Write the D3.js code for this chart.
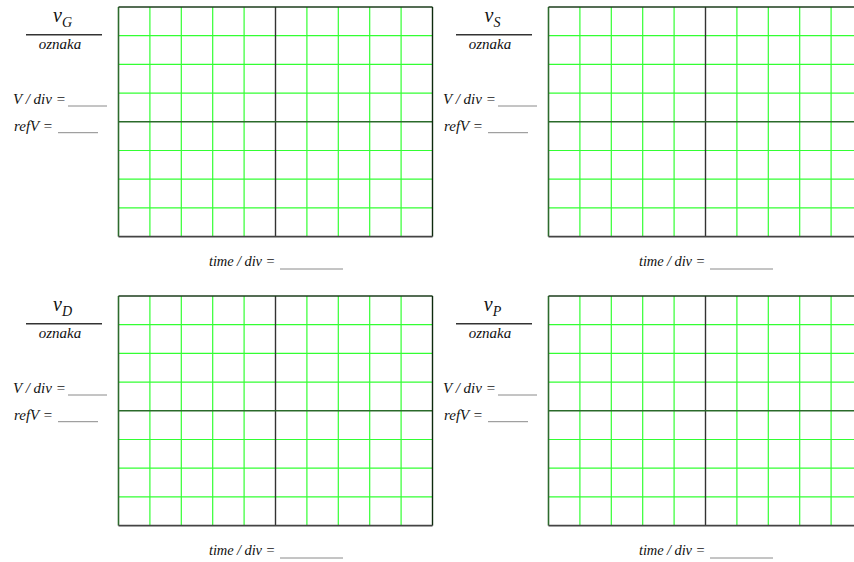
<!DOCTYPE html>
<html lang="hr">
<head>
  <meta charset="UTF-8">
  <title>Oscilloskop - predlošci</title>
  <script src="https://d3js.org/d3.v7.min.js"></script>
  <style>
    body {
      margin: 0;
      background: #ffffff;
    }
    svg {
      display: block;
    }
    .grid-line {
      stroke: #33ff33;
      stroke-width: 1.2;
    }
    .blank {
      stroke: #8a8a8a;
      stroke-width: 1;
    }
  </style>
</head>
<body>
  <svg width="854" height="562"></svg>
  <script>
    // signal names (subscripts) for the four screens, row by row
    const signals = ["G", "S", "D", "P"];
    // screen divisions
    const xDivs = d3.range(0, 11);   // 10 horizontal divisions
    const yDivs = d3.range(0, 9);    // 8 vertical divisions
    const xCenter = 5;
    const yCenter = 4;
    // text fields
    const voltLabels = ["V / div = ", "refV = "];
    const timeLabel = "time / div = ";
    const nameLabel = "oznaka";

    const FONT = "Liberation Serif";
    const svg = d3.select("svg");

    const colOffset = 430;
    const rowOffset = 289;

    const x = d3.scaleLinear().domain([0, 10]).range([118.5, 432.5]);
    const y = d3.scaleLinear().domain([0, 8]).range([7, 236.6]);

    function label(g, tx, ty, size, str) {
      return g.append("text")
        .attr("x", tx).attr("y", ty)
        .attr("font-family", FONT)
        .attr("font-style", "italic")
        .attr("font-size", size)
        .attr("fill", "#111")
        .text(str);
    }

    signals.forEach((s, i) => {
      const col = i % 2, row = Math.floor(i / 2);
      const g = svg.append("g")
        .attr("transform", `translate(${col * colOffset},${row * rowOffset})`);

      // green divisions
      g.selectAll(".vx")
        .data(xDivs.filter(d => d > 0 && d < 10 && d !== xCenter))
        .enter().append("line")
        .attr("class", "grid-line")
        .attr("x1", d => x(d)).attr("x2", d => x(d))
        .attr("y1", y(0)).attr("y2", y(8));

      g.selectAll(".hy")
        .data(yDivs.filter(d => d > 0 && d < 8 && d !== yCenter))
        .enter().append("line")
        .attr("class", "grid-line")
        .attr("x1", x(0)).attr("x2", x(10))
        .attr("y1", d => y(d)).attr("y2", d => y(d));

      // centre axes
      g.append("line")
        .attr("x1", x(xCenter)).attr("x2", x(xCenter))
        .attr("y1", y(0)).attr("y2", y(8))
        .attr("stroke", "#333").attr("stroke-width", 1.4);
      g.append("line")
        .attr("x1", x(0)).attr("x2", x(10))
        .attr("y1", y(yCenter)).attr("y2", y(yCenter))
        .attr("stroke", "#2b6a2b").attr("stroke-width", 1.6);

      // frame
      g.append("line")
        .attr("x1", x(0)).attr("x2", x(0)).attr("y1", y(0)).attr("y2", y(8))
        .attr("stroke", "#2d6b2d").attr("stroke-width", 1.6);
      g.append("line")
        .attr("x1", x(0)).attr("x2", x(10)).attr("y1", y(0)).attr("y2", y(0))
        .attr("stroke", "#1d3d1d").attr("stroke-width", 1.4);
      g.append("line")
        .attr("x1", x(10)).attr("x2", x(10)).attr("y1", y(0)).attr("y2", y(8))
        .attr("stroke", "#0d2a0d").attr("stroke-width", 1.4);
      g.append("line")
        .attr("x1", x(0)).attr("x2", x(10)).attr("y1", y(8)).attr("y2", y(8))
        .attr("stroke", "#444").attr("stroke-width", 1.6);

      // signal name v_X
      const title = label(g, 62.5, 21.7, 20, "").attr("text-anchor", "middle");
      title.append("tspan").text("v");
      title.append("tspan").attr("font-size", 14).attr("dy", 5).text(s);

      g.append("line")
        .attr("x1", 26).attr("x2", 102)
        .attr("y1", 34.7).attr("y2", 34.7)
        .attr("stroke", "#333").attr("stroke-width", 1.5);

      label(g, 60, 49.3, 15, nameLabel).attr("text-anchor", "middle");

      // V/div and refV fields
      const fields = [
        { str: voltLabels[0], tx: 13, ty: 103.5, u1: 68, u2: 107, uy: 106 },
        { str: voltLabels[1], tx: 14, ty: 131, u1: 58, u2: 98, uy: 132.7 }
      ];
      fields.forEach(f => {
        label(g, f.tx, f.ty, 15, f.str);
        g.append("line")
          .attr("class", "blank")
          .attr("x1", f.u1).attr("x2", f.u2)
          .attr("y1", f.uy).attr("y2", f.uy);
      });

      // time/div field
      label(g, 209, 266, 14.5, timeLabel).attr("letter-spacing", -0.1);
      g.append("line")
        .attr("class", "blank")
        .attr("x1", 280).attr("x2", 343)
        .attr("y1", 269).attr("y2", 269);
    });
  </script>
</body>
</html>
